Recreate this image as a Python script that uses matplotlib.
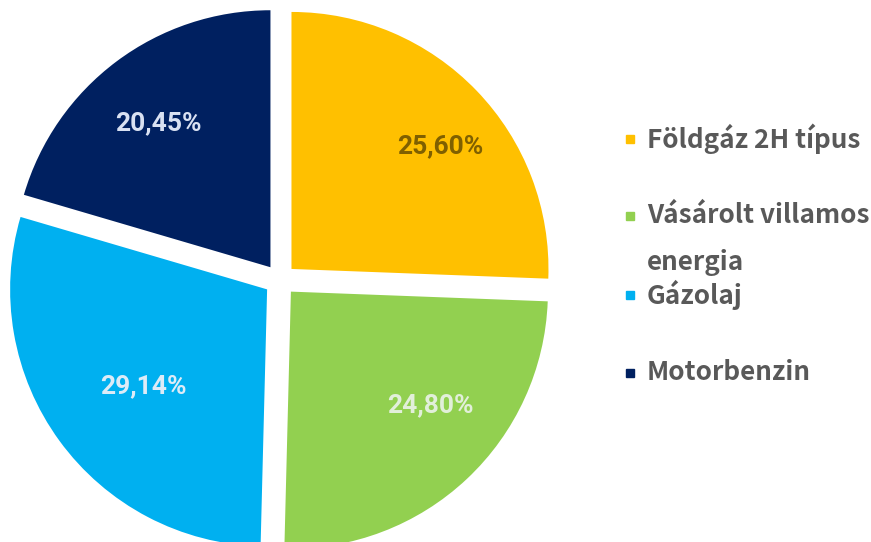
import numpy as np
import matplotlib
matplotlib.use("Agg")
import matplotlib.pyplot as plt
from matplotlib.patches import Rectangle

# adatok
categories = ["Földgáz 2H típus", "Vásárolt villamos energia", "Gázolaj", "Motorbenzin"]
legend_lines = [["Földgáz 2H típus"], ["Vásárolt villamos", "energia"], ["Gázolaj"], ["Motorbenzin"]]
shares = [25.60, 24.80, 29.14, 20.45]

colors = ["#FFC000", "#92D050", "#00B0F0", "#002060"]
pct_colors = ["#7F6000", "#E2EFDA", "#DDEBF7", "#D9E1F2"]

W, H, DPI = 871, 542, 100
fig = plt.figure(figsize=(W / DPI, H / DPI), dpi=DPI)
ax = fig.add_axes([0, 0, 1, 1])

# pie center / radius in pixels
cx, cy, R = 280, 280, 257

wedges, _ = ax.pie(shares, colors=colors, startangle=90, counterclock=False,
                   explode=[0.062] * 4, radius=1.0,
                   wedgeprops=dict(linewidth=0))

ax.set_aspect("equal", adjustable="datalim")
ax.set_xlim(-cx / R, (W - cx) / R)
ax.set_ylim(-(H - cy) / R, cy / R)
ax.axis("off")

# percentage labels (angle shift, radius) per wedge
label_pos = [(-4.5, 0.75), (7.5, 0.70), (2, 0.61), (1, 0.71)]
for w, v, c, (dang, r) in zip(wedges, shares, pct_colors, label_pos):
    mid = np.deg2rad((w.theta1 + w.theta2) / 2)
    ang = mid + np.deg2rad(dang)
    x0, y0 = w.center
    ax.text(x0 + r * np.cos(ang), y0 + r * np.sin(ang),
            f"{v:.2f}".replace(".", ",") + "%",
            ha="center", va="center", color=c, fontsize=19,
            family="Roboto", fontweight="bold")

# legend, drawn by hand
leg_y = [139, 216, 295, 373]
for lines, col, y in zip(legend_lines, colors, leg_y):
    fig.patches.append(Rectangle((626 / W, 1 - (y + 4) / H), 8 / W, 8 / H,
                                 transform=fig.transFigure, color=col))
    for i, ln in enumerate(lines):
        fig.text(647 / W, 1 - (y + i * 46) / H, ln, ha="left", va="center",
                 fontsize=18.8, color="#595959",
                 family=["Noto Sans CJK JP", "DejaVu Sans"], fontweight="bold")

fig.savefig("out.png", dpi=DPI)
